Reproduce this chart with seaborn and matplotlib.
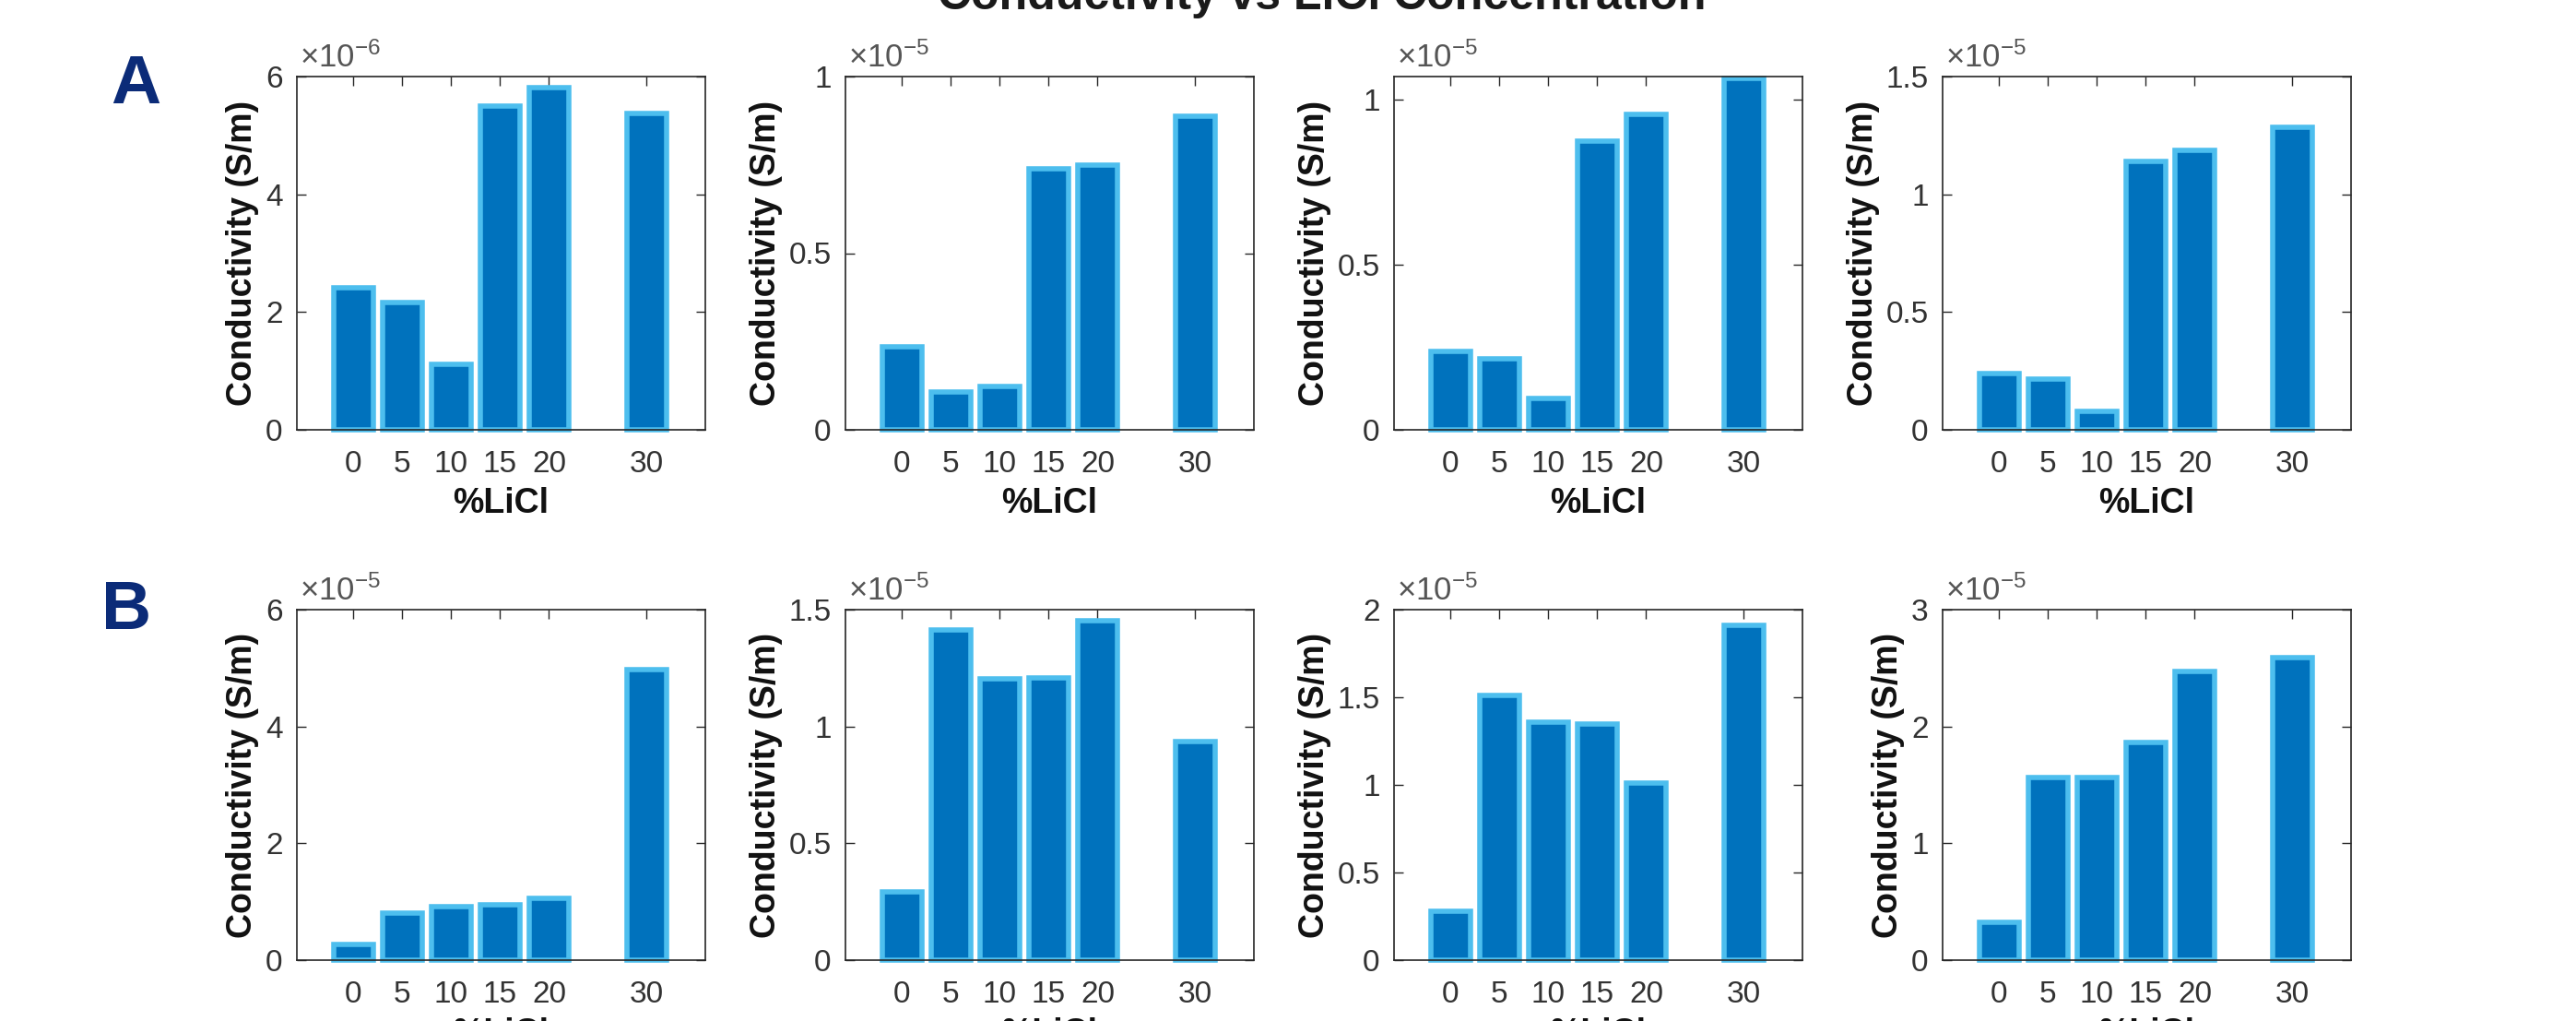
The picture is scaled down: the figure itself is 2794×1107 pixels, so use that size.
import matplotlib
matplotlib.use("Agg")
import numpy as np
import pandas as pd
import seaborn as sns
import matplotlib.pyplot as plt
from matplotlib.ticker import FuncFormatter, FixedLocator

# ---------------- data (conductivity in S/m) ----------------
licl = [0, 5, 10, 15, 20, 30]
x_ticks = [0, 5, 10, 15, 20, 30]

cond_A1 = [2.41e-6, 2.16e-6, 1.12e-6, 5.50e-6, 5.81e-6, 5.38e-6]
cond_A2 = [0.234e-5, 0.108e-5, 0.124e-5, 0.738e-5, 0.749e-5, 0.888e-5]
cond_A3 = [0.238e-5, 0.215e-5, 0.095e-5, 0.875e-5, 0.955e-5, 1.065e-5]
cond_A4 = [0.238e-5, 0.215e-5, 0.080e-5, 1.140e-5, 1.185e-5, 1.285e-5]
cond_B1 = [0.27e-5, 0.81e-5, 0.91e-5, 0.94e-5, 1.06e-5, 4.97e-5]
cond_B2 = [0.293e-5, 1.414e-5, 1.202e-5, 1.207e-5, 1.453e-5, 0.934e-5]
cond_B3 = [0.278e-5, 1.508e-5, 1.358e-5, 1.347e-5, 1.009e-5, 1.912e-5]
cond_B4 = [0.325e-5, 1.567e-5, 1.567e-5, 1.860e-5, 2.475e-5, 2.586e-5]

exponents = [-6, -5, -5, -5, -5, -5, -5, -5]
y_max = [6e-6, 1e-5, 1.07e-5, 1.5e-5, 6e-5, 1.5e-5, 2e-5, 3e-5]
y_ticks = [
    [0, 2e-6, 4e-6, 6e-6],
    [0, 0.5e-5, 1e-5],
    [0, 0.5e-5, 1e-5],
    [0, 0.5e-5, 1e-5, 1.5e-5],
    [0, 2e-5, 4e-5, 6e-5],
    [0, 0.5e-5, 1e-5, 1.5e-5],
    [0, 0.5e-5, 1e-5, 1.5e-5, 2e-5],
    [0, 1e-5, 2e-5, 3e-5],
]
series = [cond_A1, cond_A2, cond_A3, cond_A4, cond_B1, cond_B2, cond_B3, cond_B4]

title = "Conductivity vs LiCl Concentration"
x_label = "%LiCl"
y_label = "Conductivity (S/m)"
row_letters = ["A", "B"]

# ---------------- style ----------------
sns.set_theme(style="white")
plt.rcParams["font.family"] = ["Liberation Sans", "DejaVu Sans"]
plt.rcParams["mathtext.fontset"] = "custom"
plt.rcParams["mathtext.rm"] = "Liberation Sans"
plt.rcParams["mathtext.it"] = "Liberation Sans:italic"
plt.rcParams["mathtext.bf"] = "Liberation Sans:bold"

FACE = "#0072BD"
EDGE = "#4DBEEE"
AXC = "#262626"
NAVY = "#0b2b78"

W, H = 2794, 1107
fig = plt.figure(figsize=(W / 100, H / 100), dpi=100)

lefts = [322, 917, 1512, 2107]
tops = [83, 661]
heights = [383, 380]
aw = 443

for i, vals in enumerate(series):
    r, c = divmod(i, 4)
    ax = fig.add_axes([lefts[c] / W, 1 - (tops[r] + heights[r]) / H,
                       aw / W, heights[r] / H])
    df = pd.DataFrame({"licl": licl, "cond": vals})
    sns.barplot(data=df, x="licl", y="cond", native_scale=True, ax=ax,
                color=FACE, saturation=1, edgecolor=EDGE, linewidth=4,
                width=0.8, errorbar=None)
    for p in ax.patches:
        p.set_clip_on(False)

    ax.set_xlim(-5.8, 36)
    ax.set_ylim(0, y_max[i])
    ax.xaxis.set_major_locator(FixedLocator(x_ticks))
    ax.set_xticklabels([str(t) for t in x_ticks])
    ax.yaxis.set_major_locator(FixedLocator(y_ticks[i]))
    e = exponents[i]
    ax.yaxis.set_major_formatter(FuncFormatter(lambda v, p, e=e: f"{v / 10**e:g}"))

    for s in ax.spines.values():
        s.set_visible(True)
        s.set_color(AXC)
        s.set_linewidth(1.2)
    ax.tick_params(axis="both", which="major", direction="in", length=7,
                   width=1.0, color=AXC, labelcolor="#333333", labelsize=24,
                   top=True, right=True, bottom=True, left=True)
    ax.tick_params(axis="x", pad=16)
    ax.tick_params(axis="y", pad=11)

    ax.set_xlabel(x_label, fontsize=27, fontweight="bold", color="#111111", labelpad=6)
    ax.set_ylabel(y_label, fontsize=27, fontweight="bold", color="#111111", labelpad=5)

    ax.annotate("×10$^{%d}$" % e, xy=(0, 1), xycoords="axes fraction",
                xytext=(3, 10), textcoords="offset pixels",
                ha="left", va="baseline", fontsize=25, color="#555555")

fig.text(120 / W, 1 - 112 / H, row_letters[0], fontsize=54, fontweight="bold",
         color=NAVY, ha="left", va="baseline")
fig.text(110 / W, 1 - 682 / H, row_letters[1], fontsize=54, fontweight="bold",
         color=NAVY, ha="left", va="baseline")

fig.text(1434 / W, 1 - 10 / H, title, fontsize=36, fontweight="bold",
         color="#1a1a1a", ha="center", va="baseline")

fig.savefig("out.png", dpi=100, facecolor="white")
